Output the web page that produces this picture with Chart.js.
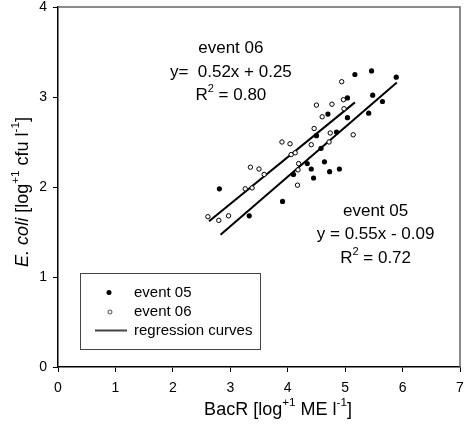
<!DOCTYPE html>
<html lang="en">
<head>
    <meta charset="UTF-8">
    <title>E. coli vs BacR</title>
    <script src="https://cdn.jsdelivr.net/npm/chart.js"></script>
    <style>
        body { margin: 0; background: #fff; }
        #wrap { width: 465px; height: 427px; }
    </style>
</head>
<body>
    <div id="wrap">
        <canvas id="scatterChart" width="465" height="427"></canvas>
    </div>

    <script>
        // event 05 (filled dots)
        const ev05X = [2.81, 3.33, 3.91, 4.10, 4.34, 4.41, 4.45, 4.64, 4.73, 4.90, 4.50,
                       4.58, 4.85, 4.70, 5.04, 5.04, 5.17, 5.46, 5.48, 5.41, 5.65, 5.89];
        const ev05Y = [1.98, 1.68, 1.84, 2.14, 2.26, 2.20, 2.10, 2.28, 2.17, 2.20, 2.57,
                       2.43, 2.61, 2.81, 2.77, 2.99, 3.25, 3.29, 3.02, 2.82, 2.95, 3.22];

        // event 06 (open circles)
        const ev06X = [2.61, 2.80, 2.97, 3.26, 3.38, 3.35, 3.50, 3.59, 3.90, 4.04, 4.06, 4.13, 4.19,
                       4.18, 4.17, 4.41, 4.46, 4.50, 4.60, 4.74, 4.72, 4.77, 4.94, 4.97, 4.98, 5.14];
        const ev06Y = [1.67, 1.63, 1.68, 1.98, 1.99, 2.22, 2.20, 2.14, 2.50, 2.48, 2.36, 2.38, 2.26,
                       2.19, 2.02, 2.47, 2.65, 2.91, 2.78, 2.60, 2.50, 2.92, 3.17, 2.97, 2.87, 2.58];

        // regression line end points
        const reg05X = [2.83, 5.90];
        const reg05Y = [1.47, 3.16];
        const reg06X = [2.63, 5.17];
        const reg06Y = [1.62, 2.94];

        const xTicks = [0, 1, 2, 3, 4, 5, 6, 7];
        const yTicks = [0, 1, 2, 3, 4];

        const legendLabels = ['event 05', 'event 06', 'regression curves'];

        const FONT = '"Liberation Sans", Arial, sans-serif';

        const toPts = (xs, ys) => xs.map((x, i) => ({ x: x, y: ys[i] }));

        // draw a run of text pieces (some superscript / italic), centred on 0
        function drawRich(ctx, parts, size) {
            let w = 0;
            parts.forEach(p => {
                const s = p.sup ? size * 0.65 : size;
                ctx.font = (p.italic ? 'italic ' : '') + s + 'px ' + FONT;
                p.w = ctx.measureText(p.t).width;
                w += p.w;
            });
            let x = -w / 2;
            parts.forEach(p => {
                const s = p.sup ? size * 0.65 : size;
                ctx.font = (p.italic ? 'italic ' : '') + s + 'px ' + FONT;
                ctx.fillText(p.t, x, p.sup ? -size * 0.4 : 0);
                x += p.w;
            });
        }

        const extras = {
            id: 'extras',
            afterDraw(chart) {
                const ctx = chart.ctx;
                const a = chart.chartArea;
                const xs = chart.scales.x, ys = chart.scales.y;
                ctx.save();

                // top / right frame
                ctx.strokeStyle = '#666';
                ctx.lineWidth = 1.5;
                ctx.beginPath();
                ctx.moveTo(a.left, a.top);
                ctx.lineTo(a.right, a.top);
                ctx.lineTo(a.right, a.bottom);
                ctx.stroke();

                ctx.fillStyle = '#000';
                ctx.textBaseline = 'middle';

                // axis titles
                ctx.save();
                ctx.translate(278, 410);
                drawRich(ctx, [{ t: 'BacR [log' }, { t: '+1', sup: true }, { t: ' ME l' }, { t: '-1', sup: true }, { t: ']' }], 18);
                ctx.restore();

                ctx.save();
                ctx.translate(23, 192);
                ctx.rotate(-Math.PI / 2);
                drawRich(ctx, [{ t: 'E. coli', italic: true }, { t: ' [log' }, { t: '+1', sup: true }, { t: ' cfu l' }, { t: '-1', sup: true }, { t: ']' }], 18);
                ctx.restore();

                // equation labels
                const label = (lines, xv, yv) => {
                    let y = ys.getPixelForValue(yv);
                    lines.forEach(l => {
                        ctx.save();
                        ctx.translate(xs.getPixelForValue(xv), y);
                        drawRich(ctx, l, 17);
                        ctx.restore();
                        y += 23.5;
                    });
                };
                label([[{ t: 'event 06' }],
                       [{ t: 'y=  0.52x + 0.25' }],
                       [{ t: 'R' }, { t: '2', sup: true }, { t: ' = 0.80' }]], 3.01, 3.54);
                label([[{ t: 'event 05' }],
                       [{ t: 'y = 0.55x - 0.09' }],
                       [{ t: 'R' }, { t: '2', sup: true }, { t: ' = 0.72' }]], 5.53, 1.73);

                // legend box
                const lx = Math.round(xs.getPixelForValue(0.383)), ly = Math.round(ys.getPixelForValue(1.044));
                const lw = 180, lh = 76;
                ctx.strokeStyle = '#444';
                ctx.lineWidth = 1;
                ctx.strokeRect(lx + 0.5, ly + 0.5, lw, lh);
                ctx.font = '15px ' + FONT;
                ctx.textAlign = 'left';
                const rows = [ly + 19.5, ly + 39, ly + 57.5];
                // filled dot
                ctx.beginPath();
                ctx.arc(lx + 29, rows[0], 2.5, 0, Math.PI * 2);
                ctx.fill();
                // open dot
                ctx.beginPath();
                ctx.arc(lx + 30, rows[1], 2, 0, Math.PI * 2);
                ctx.stroke();
                // line
                ctx.lineWidth = 2;
                ctx.beginPath();
                ctx.moveTo(lx + 15, rows[2]);
                ctx.lineTo(lx + 47, rows[2]);
                ctx.stroke();
                legendLabels.forEach((t, i) => ctx.fillText(t, lx + 54, rows[i]));

                ctx.restore();
            }
        };

        const config = {
            type: 'scatter',
            data: {
                datasets: [{
                    label: legendLabels[0],
                    data: toPts(ev05X, ev05Y),
                    backgroundColor: '#000',
                    borderColor: '#000',
                    pointRadius: 2.6,
                    borderWidth: 0
                }, {
                    label: legendLabels[1],
                    data: toPts(ev06X, ev06Y),
                    backgroundColor: '#fff',
                    borderColor: '#000',
                    pointRadius: 2.2,
                    borderWidth: 1
                }, {
                    type: 'line',
                    label: 'regression 05',
                    data: toPts(reg05X, reg05Y),
                    borderColor: '#000',
                    borderWidth: 2,
                    pointRadius: 0,
                    showLine: true
                }, {
                    type: 'line',
                    label: 'regression 06',
                    data: toPts(reg06X, reg06Y),
                    borderColor: '#000',
                    borderWidth: 2,
                    pointRadius: 0,
                    showLine: true
                }]
            },
            options: {
                responsive: false,
                animation: false,
                layout: { padding: { left: 0, top: 7, right: 4, bottom: 0 } },
                plugins: {
                    legend: { display: false },
                    tooltip: { enabled: false }
                },
                scales: {
                    x: {
                        type: 'linear',
                        min: 0, max: 7,
                        afterBuildTicks: s => { s.ticks = xTicks.map(v => ({ value: v })); },
                        afterFit: s => { s.height = 60; s.paddingLeft = 0; s.paddingRight = 0; },
                        border: { color: '#000', width: 1.5 },
                        grid: { drawOnChartArea: false, color: '#000', tickLength: 5 },
                        ticks: { color: '#000', padding: 8, font: { family: FONT, size: 14 } }
                    },
                    y: {
                        type: 'linear',
                        min: 0, max: 4,
                        afterBuildTicks: s => { s.ticks = yTicks.map(v => ({ value: v })); },
                        afterFit: s => { s.width = 58; s.paddingTop = 0; s.paddingBottom = 0; },
                        border: { color: '#000', width: 1.5 },
                        grid: { drawOnChartArea: false, color: '#000', tickLength: 5 },
                        ticks: { color: '#000', padding: 6, font: { family: FONT, size: 14 } }
                    }
                }
            },
            plugins: [extras]
        };

        new Chart(document.getElementById('scatterChart'), config);
    </script>
</body>
</html>
